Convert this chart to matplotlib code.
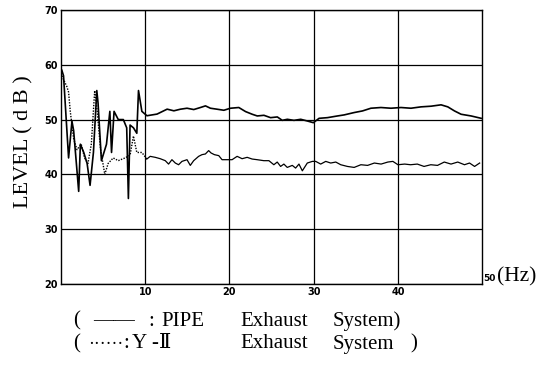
import matplotlib.pyplot as plt
import numpy as np

# PIPE exhaust system (solid)
pipe_hz = [0.1, 0.3, 0.9, 1.3, 1.5, 2.1, 2.3, 2.7, 3.1, 3.45, 3.85, 4.25, 4.4, 4.8, 5.4,
           5.8, 6.0, 6.3, 6.8, 7.4, 7.8, 8.0, 8.2, 8.6, 9.0, 9.2, 9.6, 10.2, 11.4, 12.6, 13.4,
           14.17, 14.96, 15.76, 16.55, 17.15, 17.74, 18.54, 19.33, 20.12, 21.11, 21.91,
           22.70, 23.30, 24.09, 24.88, 25.68, 26.27, 26.87, 27.66, 28.46, 29.25, 29.96,
           30.64, 31.63, 32.82, 33.61, 34.80, 35.80, 36.79, 37.98, 39.17, 40.36, 41.55,
           42.74, 43.93, 45.12, 45.92, 46.71, 47.50, 48.69, 49.88]
pipe_db = [59, 58, 43, 49.7, 48, 36.9, 45.5, 44, 42, 38, 44, 55.3, 53, 42.5, 45.5,
           51.5, 44, 51.5, 50, 50, 48.5, 35.6, 49, 48.5, 47.5, 55.3, 51.5, 50.7, 51.0, 51.9, 51.6,
           51.89, 52.07, 51.83, 52.20, 52.50, 52.07, 51.89, 51.70, 52.07, 52.20, 51.46,
           50.97, 50.66, 50.78, 50.35, 50.48, 49.86, 50.05, 49.86, 50.05, 49.74, 49.43,
           50.23, 50.35, 50.66, 50.85, 51.28, 51.58, 52.07, 52.20, 52.07, 52.20, 52.07,
           52.32, 52.44, 52.69, 52.32, 51.58, 50.97, 50.66, 50.23]

# Y-II exhaust system (dotted)
y2_hz = [0.1, 0.7, 0.9, 1.1, 1.5, 1.9, 2.4, 2.8, 3.2, 3.6, 4.0, 4.3, 4.7, 5.2, 5.6,
         6.2, 6.8, 7.6, 8.2, 8.6, 9.0, 9.6, 10.19,
         10.59, 11.19, 11.78, 12.38, 12.77, 13.17, 13.57, 13.96, 14.36, 14.96, 15.35,
         15.75, 16.34, 16.74, 17.14, 17.53, 17.81, 18.21, 18.73, 19.12, 19.72, 20.31,
         20.91, 21.50, 22.10, 22.69, 23.29, 24.08, 24.68, 25.27, 25.67, 26.07, 26.46,
         26.86, 27.46, 27.85, 28.25, 28.65, 29.24, 29.84, 30.24, 30.83, 31.43, 32.02,
         32.62, 33.21, 34.0, 34.8, 35.6, 36.4, 37.2, 38.0, 38.8, 39.4, 40.0, 40.8, 41.5,
         42.3, 43.1, 43.9, 44.7, 45.5, 46.3, 47.1, 47.9, 48.5, 49.1, 49.7]
y2_db = [58, 56, 55, 51.5, 46.5, 44.5, 45.5, 43, 42, 45.5, 55.3, 51.5, 44.5, 40, 42,
         43, 42.5, 43, 43.5, 47, 44, 44, 42.8,
         43.29, 43.11, 42.86, 42.50, 41.88, 42.68, 42.07, 41.76, 42.37, 42.68, 41.64,
         42.50, 43.29, 43.60, 43.72, 44.34, 43.91, 43.60, 43.42, 42.68, 42.68, 42.68,
         43.29, 42.86, 43.11, 42.80, 42.68, 42.50, 42.50, 41.76, 42.25, 41.45, 41.88,
         41.27, 41.64, 41.15, 41.88, 40.65, 42.07, 42.37, 42.37, 41.88, 42.37, 42.07,
         42.25, 41.76, 41.45, 41.27, 41.76, 41.64, 42.07, 41.88, 42.25, 42.37, 41.76,
         41.88, 41.76, 41.88, 41.45, 41.76, 41.64, 42.25, 41.88, 42.25, 41.76, 42.07,
         41.45, 42.07]

y_ticks = [20, 30, 40, 50, 60, 70]
x_ticks = [10, 20, 30, 40, 50]

# legend text pieces, each with its left edge in pixels
legend_pipe = [('(', 73), ('——', 93), (':', 148), ('PIPE', 161), ('Exhaust', 240), ('System)', 333)]
legend_y2 = [('(', 73), ('······', 88), (':', 123), ('Y', 132), ('-', 151), ('Ⅱ', 159),
             ('Exhaust', 240), ('System', 333), (')', 410)]

serif = ['Liberation Serif', 'DejaVu Serif']
W, H = 552, 379

fig = plt.figure(figsize=(5.52, 3.79), dpi=100)
ax = fig.add_axes([0.1105, 0.2507, 0.763, 0.723])

pipe_hz = np.array(pipe_hz); pipe_db = np.array(pipe_db)
y2_hz = np.array(y2_hz); y2_db = np.array(y2_db)

ax.plot(pipe_hz, pipe_db, color='black', lw=1.2)
low = y2_hz <= 10.19
high = y2_hz >= 10.19
ax.plot(y2_hz[low], y2_db[low], color='black', lw=1.0, ls=(0, (1, 1)))
ax.plot(y2_hz[high], y2_db[high], color='black', lw=0.9)

ax.set_xlim(0, 50)
ax.set_ylim(20, 70)
ax.set_xticks(x_ticks[:-1])
ax.set_yticks(y_ticks)
ax.grid(True, color='black', lw=0.9)
for s in ax.spines.values():
    s.set_linewidth(1.0)
ax.tick_params(length=0, labelsize=7, pad=2)
ax.set_xticklabels([str(t) for t in x_ticks[:-1]])
ax.set_yticklabels([str(t) for t in y_ticks])
for lab in ax.get_xticklabels() + ax.get_yticklabels():
    lab.set_fontweight('bold')

ax.text(50.1, 20.1, str(x_ticks[-1]), fontsize=6.5, fontweight='bold', ha='left', va='bottom')
ax.text(51.75, 19.5, '(Hz)', fontsize=15.5, family=serif, ha='left', va='bottom')

fig.text(24 / W, 1 - 142 / H, 'LEVEL ( d B )', rotation=90, fontsize=16, family=serif,
         ha='center', va='center')

for txt, px in legend_pipe:
    fig.text(px / W, 1 - 321 / H, txt, fontsize=15, family=serif, ha='left', va='center')
for txt, px in legend_y2:
    fs = 13 if txt.startswith('·') else 15
    fig.text(px / W, 1 - 344 / H, txt, fontsize=fs, family=serif, ha='left', va='center')

fig.savefig('out.png', dpi=100)
